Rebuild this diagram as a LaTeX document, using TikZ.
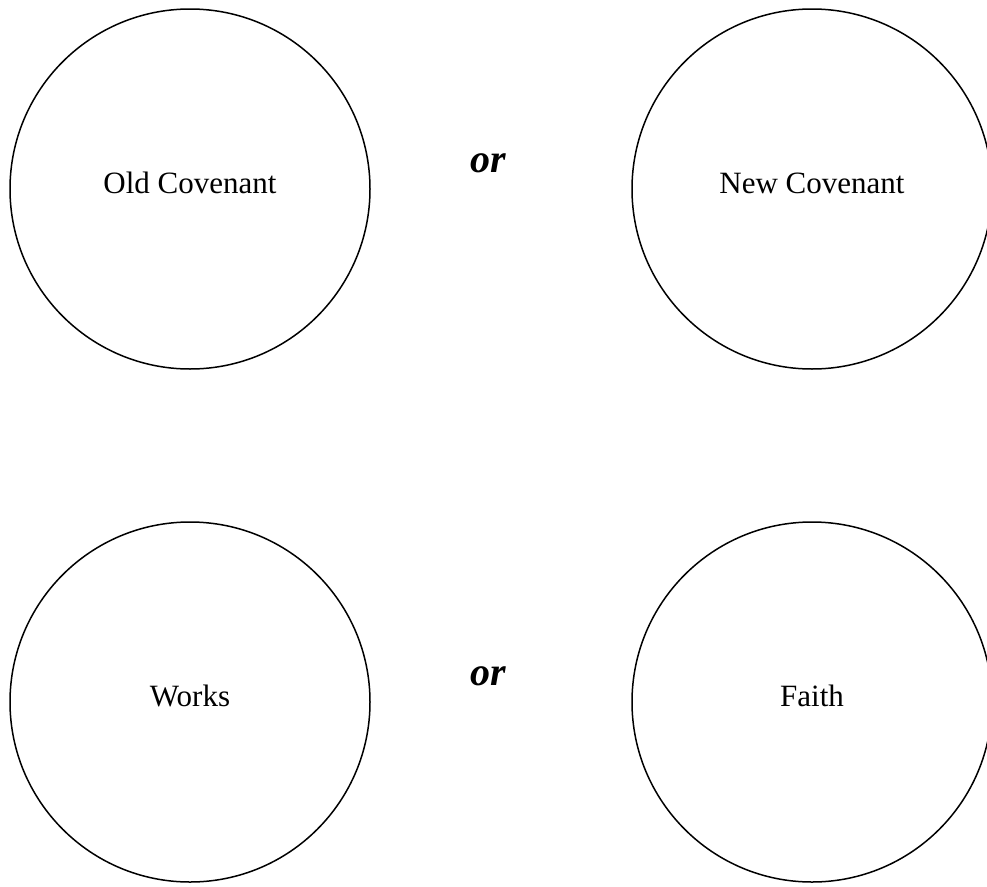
\documentclass[tikz,border=0pt]{standalone}
\usepackage{fontspec}
\setmainfont{Liberation Serif}
\begin{document}
\begin{tikzpicture}[x=1pt,y=-1pt,
  ring/.style={circle,draw,line width=1.5pt,minimum size=360pt,inner sep=0pt},
  lab/.style={anchor=base,inner sep=0pt,font=\fontsize{31}{37}\selectfont},
  orlab/.style={anchor=base,inner sep=0pt,font=\fontsize{40}{46}\selectfont\bfseries\itshape}]
\useasboundingbox (0,0) rectangle (987,886);
\node[ring] (oc) at (190,189) {};
\node[ring] (nc) at (812,189) {};
\node[ring] (wk) at (190,702) {};
\node[ring] (fa) at (812,702) {};
\node[lab] (oct) at (190,193) {Old Covenant};
\node[lab] (nct) at (812,193) {New Covenant};
\node[lab] (wkt) at (190,706) {Works};
\node[lab] (fat) at (812,706) {Faith};
\node[orlab] (or1) at (488,172) {or};
\node[orlab] (or2) at (488,685) {or};
\end{tikzpicture}
\end{document}
